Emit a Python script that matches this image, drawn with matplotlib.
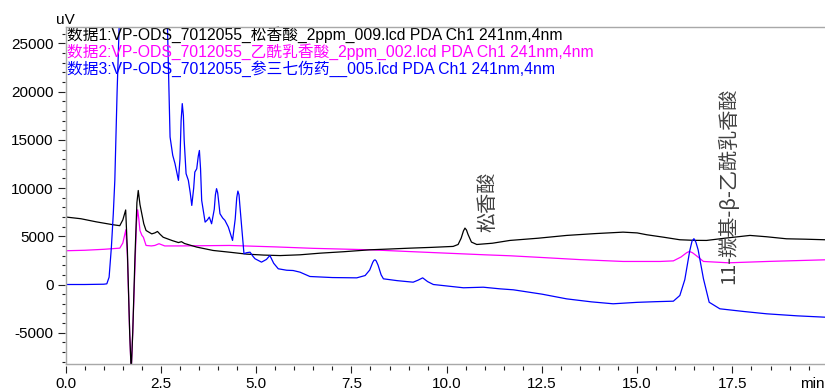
import numpy as np
import matplotlib
matplotlib.use('Agg')
import matplotlib.pyplot as plt
import matplotlib.ticker as mticker

plt.rcParams['font.family'] = ['Liberation Sans', 'Noto Sans CJK SC', 'DejaVu Sans']

# --- chromatogram traces (time in min, signal in uV) ---
t1 = [0.0, 0.4, 0.8, 1.24, 1.42, 1.5, 1.575, 1.62, 1.68, 1.72, 1.76, 1.82, 1.87, 1.905, 1.95,
      1.99, 2.05, 2.11, 2.26, 2.34, 2.41, 2.48, 2.56, 2.8, 2.96, 3.04, 3.12, 3.44, 3.87, 4.3,
      4.75, 5.2, 5.63, 6.15, 6.68, 7.3, 7.99, 8.5, 9.04, 9.6, 10.17, 10.3, 10.38, 10.44, 10.48,
      10.52, 10.56, 10.65, 10.79, 11.2, 11.66, 12.4, 13.15, 13.9, 14.63, 15.0, 15.25, 15.7, 16.12,
      16.5, 16.82, 17.3, 17.96, 18.4, 18.92, 19.4, 19.93]
y1 = [7000, 6820, 6500, 6200, 6100, 6700, 7730, 3500, -5000, -9000, -5000, 3000, 8500, 9750, 8300,
      7500, 6300, 5600, 5250, 5350, 5500, 5200, 4900, 4550, 4350, 4440, 4250, 3880, 3530, 3350,
      3150, 3050, 3000, 3080, 3250, 3400, 3600, 3680, 3770, 3850, 3950, 4150, 4800, 5550, 5850,
      5650, 5200, 4400, 4150, 4280, 4570, 4800, 5090, 5280, 5430, 5350, 5160, 4900, 4640,
      4580, 4570, 4800, 5090, 4950, 4740, 4700, 4640]

t2 = [0.0, 0.5, 1.0, 1.42, 1.5, 1.58, 1.62, 1.68, 1.72, 1.76, 1.82, 1.86, 1.89, 1.92, 1.95,
      2.0, 2.04, 2.11, 2.25, 2.34, 2.45, 2.6, 3.0, 4.3, 5.5, 6.5, 7.99, 9.0, 10.0, 11.0, 11.66,
      12.5, 13.5, 14.63, 15.6, 15.95, 16.15, 16.3, 16.37, 16.45, 16.55, 16.74, 17.4, 18.5, 19.93]
y2 = [3500, 3550, 3650, 3770, 4300, 5680, 3000, -5000, -9000, -5000, 2000, 6500, 7750, 6800, 5600,
      5100, 4900, 4050, 4000, 4050, 4230, 4000, 4000, 4050, 3900, 3750, 3600, 3420, 3250, 3080, 2980,
      2800, 2580, 2390, 2390, 2450, 2850, 3300, 3430, 3300, 3000, 2390, 2250, 2400, 2560]

t3 = [0.0, 0.5, 1.0, 1.08, 1.14, 1.2, 1.25, 1.29, 1.35, 1.41, 1.5, 2.6, 2.67, 2.74, 2.81, 2.87,
      2.96, 3.0, 3.03, 3.06, 3.09, 3.11, 3.16, 3.22, 3.27, 3.31, 3.36, 3.39, 3.44, 3.48, 3.51,
      3.54, 3.57, 3.66, 3.72, 3.77, 3.83, 3.9, 3.93, 3.96, 3.99, 4.01, 4.05, 4.12, 4.18, 4.27,
      4.38, 4.45, 4.49, 4.52, 4.55, 4.57, 4.62, 4.68, 4.75, 4.84, 4.92, 4.97, 5.14, 5.27, 5.36,
      5.46, 5.58, 5.8, 5.97, 6.15, 6.41, 7.0, 7.64, 7.86, 7.98, 8.06, 8.09, 8.12, 8.15, 8.2,
      8.28, 8.34, 8.7, 9.12, 9.25, 9.37, 9.5, 9.65, 10.44, 10.96, 11.4, 11.75, 12.5, 13.15,
      13.8, 14.37, 15.0, 15.5, 15.95, 16.12, 16.25, 16.38, 16.44, 16.49, 16.54, 16.6, 16.74,
      16.89, 17.17, 17.8, 18.4, 19.2, 19.93]
y3 = [0, 0, 30, 70, 760, 3870, 7340, 10800, 20000, 27500, 32000, 32000, 27000, 15300, 13400, 12530,
      10800, 13000, 17000, 18760, 17500, 15000, 11500, 10800, 9500, 8200, 10000, 11660, 12000, 13300,
      13900, 12000, 8720, 6470, 6700, 6990, 6300, 7800, 9300, 9940, 9500, 8800, 7340, 6900, 6650,
      5950, 4570, 6800, 9000, 9690, 9300, 8300, 5950, 3190, 3300, 3350, 2900, 2670, 2320, 2600, 3010,
      2200, 1630, 1480, 1450, 1280, 830, 720, 690, 930, 1500, 2300, 2500, 2560, 2450, 2000,
      1000, 590, 400, 240, 450, 690, 300, 0, -340, -280, -450, -550, -1000, -1490,
      -1800, -2000, -1850, -1780, -1730, -1140, 500, 3500, 4500, 4750, 4400, 3600, 590,
      -1840, -2520, -2800, -3040, -3250, -3390]

trace_names = ['数据1:VP-ODS_7012055_松香酸_2ppm_009.lcd PDA Ch1 241nm,4nm',
               '数据2:VP-ODS_7012055_乙酰乳香酸_2ppm_002.lcd PDA Ch1 241nm,4nm',
               '数据3:VP-ODS_7012055_参三七伤药__005.lcd PDA Ch1 241nm,4nm']
trace_colors = ['#000000', '#ff00ff', '#0000ff']

# peak labels (text position in data units)
peak_names = ['松香酸', '11-羰基-β-乙酰乳香酸']
peak_label_t = [11.08, 17.41]
peak_label_y = [5400, 100]

fig = plt.figure(figsize=(8.25, 3.91), dpi=100)
ax = fig.add_axes([0.0796, 0.0683, 0.9204, 0.8634])

traces = [(t1, y1), (t2, y2), (t3, y3)]
zorders = [2, 1, 3]
for (t, y), c, z in zip(traces, trace_colors, zorders):
    ax.plot(t, y, color=c, lw=0.9, zorder=z)

ax.set_xlim(0, 19.93)
ax.set_ylim(-8275, 26735)

# ticks
ax.xaxis.set_major_locator(mticker.MultipleLocator(2.5))
ax.xaxis.set_minor_locator(mticker.MultipleLocator(0.5))
ax.yaxis.set_major_locator(mticker.MultipleLocator(5000))
ax.yaxis.set_minor_locator(mticker.MultipleLocator(1000))
ax.xaxis.set_major_formatter(mticker.FormatStrFormatter('%.1f'))
ax.yaxis.set_major_formatter(mticker.FormatStrFormatter('%d'))
ax.tick_params(axis='x', which='major', length=4.8, width=0.8, pad=2.5, labelsize=11, color='#202020')
ax.tick_params(axis='x', which='minor', length=2.9, width=0.8, color='#202020')
ax.tick_params(axis='y', which='major', length=5.3, width=0.8, pad=2.5, labelsize=11, color='#202020')
ax.tick_params(axis='y', which='minor', length=2.4, width=0.8, color='#202020')

# frame drawn separately so ticks sit a little off the axis line
for s in ax.spines.values():
    s.set_visible(False)
ax.spines['bottom'].set_position(('outward', 1.5))
ax.spines['left'].set_position(('outward', 0.7))
frame_kw = dict(transform=ax.transAxes, clip_on=False, color='#a8a8a8', lw=1.0, zorder=5)
ax.plot([0, 0], [0, 1], **frame_kw)
ax.plot([0, 1], [0, 0], **frame_kw)
ax.plot([0, 1], [1, 1], **frame_kw)

# trace names in the top-left corner
offsets = [-5.6, -17.9, -30.3]
for name, c, dy in zip(trace_names, trace_colors, offsets):
    ax.annotate(name, xy=(0, 1), xycoords='axes fraction', xytext=(0.8, dy),
                textcoords='offset points', ha='left', va='center', fontsize=11.3, color=c)

for name, t, y in zip(peak_names, peak_label_t, peak_label_y):
    ax.text(t, y, name, rotation=90, ha='center', va='bottom', fontsize=14.5,
            color='#404040', family=['Noto Sans CJK SC', 'DejaVu Sans'])

fig.text(65.5 / 825, 1 - 19.5 / 391, 'uV', ha='center', va='center', fontsize=11)
fig.text(0.999, 1 - 383.5 / 391, 'min', ha='right', va='center', fontsize=11)

plt.savefig('out.png', dpi=100)
